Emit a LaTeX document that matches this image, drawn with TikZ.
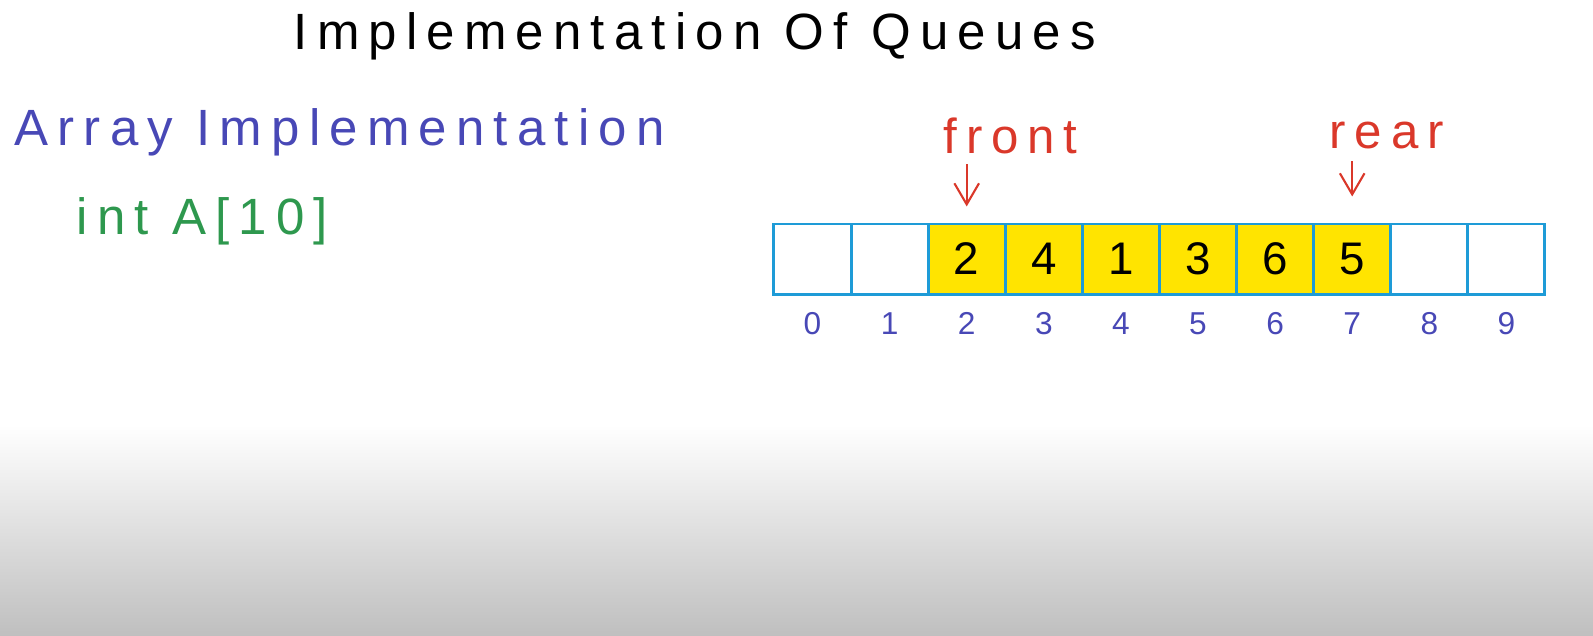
\documentclass[tikz,border=0pt]{standalone}
\usepackage{fontspec}
\usepackage{xcolor}
\usetikzlibrary{arrows.meta,positioning}
\newfontfamily\hand[LetterSpace=18]{Liberation Sans}
\definecolor{penblue}{RGB}{72,72,182}
\definecolor{pengreen}{RGB}{46,152,78}
\definecolor{penred}{RGB}{218,56,42}
\definecolor{cellblue}{RGB}{30,155,215}
\definecolor{cellyellow}{RGB}{255,228,0}
\tikzset{
  heading/.style={
    anchor=base west,
    inner sep=0pt,
    font=\hand\fontsize{14.5}{17}\selectfont
  },
  cell/.style={
    draw=cellblue,
    line width=0.85pt,
    minimum width=0.771cm,
    minimum height=0.70cm,
    inner sep=0pt,
    font=\hand\fontsize{13}{15}\selectfont
  },
  full/.style={
    cell,
    fill=cellyellow
  },
  idx/.style={
    inner sep=0pt,
    text=penblue,
    font=\hand\fontsize{9}{11}\selectfont
  },
  ptr/.style={-{Straight Barb[length=6pt,width=7pt]}, line width=0.6pt, draw=penred}
}

\begin{document}
\begin{tikzpicture}[x=0.01cm, y=-0.01cm]
  \useasboundingbox (0,0) rectangle (1593,635);
  \shade[top color=white, bottom color=black!25] (0,425) rectangle (1593,635);

  \node[heading] (title) at (293,49) {Implementation Of Queues};
  \node[heading, text=penblue] (arrimpl) at (14,145) {Array Implementation};
  \node[heading, text=pengreen] (decl) at (76,234) {int A[10]};

  % empty slots
  \foreach \i in {0,1,8,9}
    \node[cell] (c\i) at ({812.5+77.1*\i},259) {};
  % occupied slots
  \foreach \i/\v in {2/2,3/4,4/1,5/3,6/6,7/5}
    \node[full] (c\i) at ({812.5+77.1*\i},259) {\v};

  \foreach \i in {0,...,9}
    \node[idx, below=0.16cm of c\i] (i\i) {\i};

  \node[heading, text=penred, font=\hand\fontsize{14}{16}\selectfont] (front) at (943,153) {front};
  \node[heading, text=penred, font=\hand\fontsize{14}{16}\selectfont] (rear) at (1329,148) {rear};

  \draw[ptr, shorten <=0.10cm, shorten >=0.16cm] (front.south -| c2.north) -- (c2.north);
  \draw[ptr, shorten <=0.12cm, shorten >=0.26cm] (rear.south -| c7.north) -- (c7.north);
\end{tikzpicture}
\end{document}
